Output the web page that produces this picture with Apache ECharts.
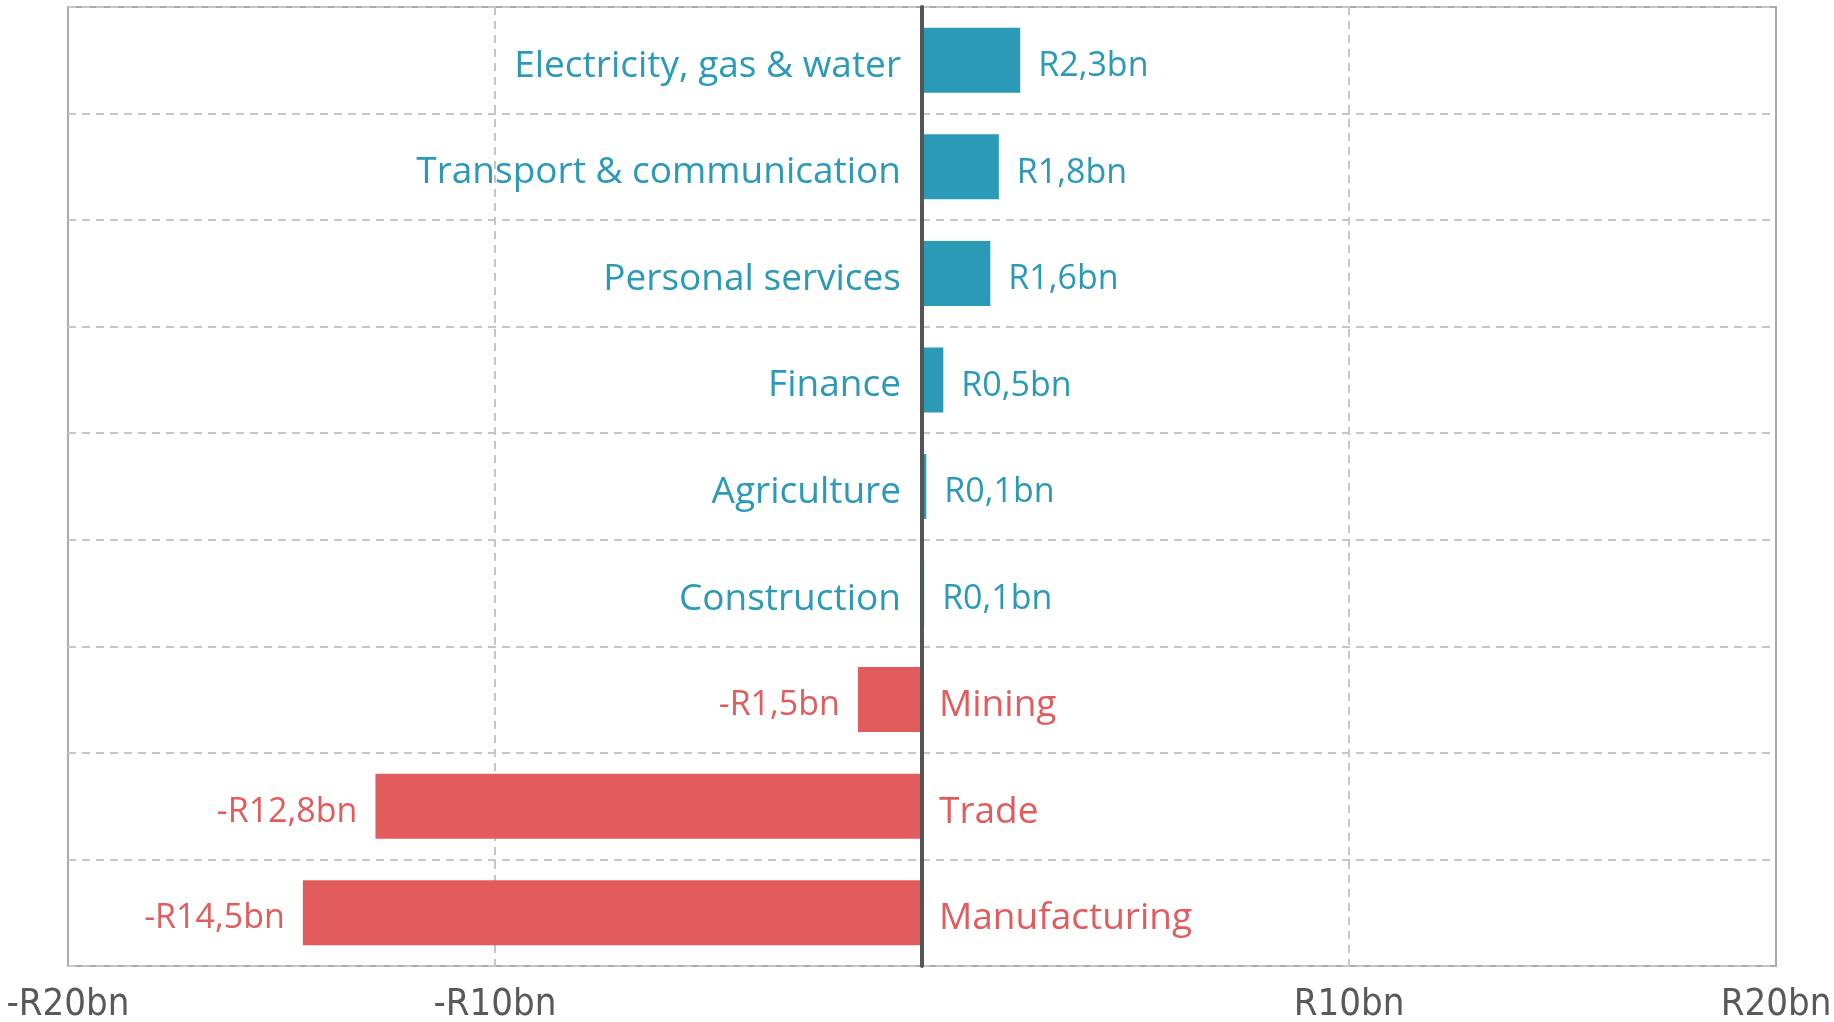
<!DOCTYPE html>
<html>
<head>
<meta charset="utf-8">
<script src="https://cdn.jsdelivr.net/npm/echarts@6/dist/echarts.min.js"></script>
<style>
  html, body { margin: 0; padding: 0; background: #fff; }
  #chart { width: 1834px; height: 1022px; }
</style>
</head>
<body>
<div id="chart"></div>
<script>
// sectors, top to bottom
const sectors = ['Electricity, gas & water', 'Transport & communication', 'Personal services', 'Finance',
  'Agriculture', 'Construction', 'Mining', 'Trade', 'Manufacturing'];
// change, R billion
const values = [2.3, 1.8, 1.6, 0.5, 0.1, 0.05, -1.5, -12.8, -14.5];
const valueLabels = ['R2,3bn', 'R1,8bn', 'R1,6bn', 'R0,5bn', 'R0,1bn', 'R0,1bn', '-R1,5bn', '-R12,8bn', '-R14,5bn'];
const xTicks = { '-20': '-R20bn', '-10': '-R10bn', '10': 'R10bn', '20': 'R20bn' };

const TEAL = '#2a9ab6';
const RED = '#e35c5d';
const GRID = '#c6c6c6';

const chart = echarts.init(document.getElementById('chart'));

const barData = values.map((v, i) => ({
  value: v,
  itemStyle: { color: v >= 0 ? TEAL : RED },
  label: { position: v >= 0 ? 'right' : 'left', color: v >= 0 ? TEAL : RED, formatter: valueLabels[i] },
}));

// sector names sit beside the zero line, on the side opposite the bar
const nameData = sectors.map((s, i) => ({
  value: [0, s],
  label: {
    position: values[i] >= 0 ? 'left' : 'right',
    distance: values[i] >= 0 ? 21 : 17,
    color: values[i] >= 0 ? TEAL : RED,
    formatter: s,
  },
}));

chart.setOption({
  animation: false,
  grid: {
    left: 68, right: 58, top: 7, bottom: 56, containLabel: false, outerBoundsMode: 'none',
    show: true, z: 1, borderColor: '#ababab', borderWidth: 2,
  },
  xAxis: {
    type: 'value', min: -20, max: 20, interval: 10,
    axisLine: { show: false }, axisTick: { show: false },
    axisLabel: {
      margin: 20, color: '#595959',
      fontFamily: "'Liberation Sans Narrow', 'DejaVu Sans Condensed', 'Liberation Sans', sans-serif", fontSize: 38,
      formatter: v => xTicks[String(v)] || '',
    },
    splitLine: { show: true, lineStyle: { color: GRID, width: 2, type: [8, 6] } },
  },
  yAxis: {
    type: 'category', data: sectors, inverse: true, z: 10,
    axisLine: { onZero: true, lineStyle: { color: '#555', width: 4 } },
    axisTick: { show: false }, axisLabel: { show: false },
    splitLine: { show: true, lineStyle: { color: GRID, width: 2, type: [8, 6] } },
  },
  series: [
    {
      type: 'bar', data: barData, barWidth: 65,
      label: { show: true, distance: 18, offset: [0, 6], fontFamily: 'Open Sans', fontSize: 34 },
    },
    {
      type: 'scatter', data: nameData, symbolSize: 0, silent: true,
      itemStyle: { opacity: 1 },
      label: { show: true, offset: [0, 6], fontFamily: 'Open Sans', fontSize: 37 },
    },
  ],
});
</script>
</body>
</html>
